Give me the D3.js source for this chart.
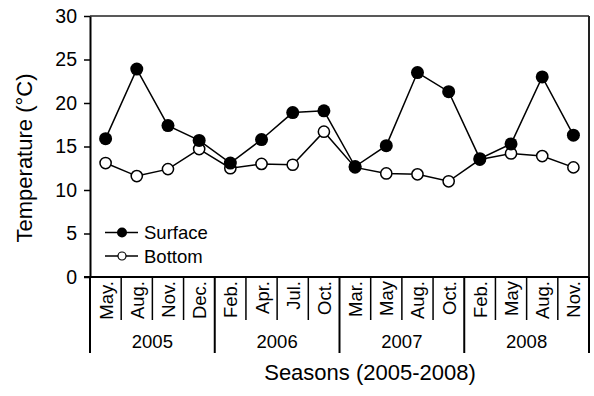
<!DOCTYPE html>
<html>
<head>
<meta charset="utf-8">
<script src="https://cdn.jsdelivr.net/npm/d3@7/dist/d3.min.js"></script>
<style>
  html, body { margin: 0; padding: 0; background: #fff; }
  svg { display: block; }
  text { font-family: "Liberation Sans", Arial, Helvetica, sans-serif; fill: #000; }
</style>
</head>
<body>
<svg id="chart" width="594" height="396"></svg>
<script>
// Sampling months, grouped by year
const months = ["May.", "Aug.", "Nov.", "Dec.",
                "Feb.", "Apr.", "Jul.", "Oct.",
                "Mar.", "May", "Aug.", "Oct.",
                "Feb.", "May", "Aug.", "Nov."];
const years = ["2005", "2006", "2007", "2008"];
const monthsPerYear = [4, 4, 4, 4];

// Water temperature (°C)
const surface = [15.9, 23.9, 17.4, 15.7, 13.1, 15.8, 18.9, 19.1,
                 12.7, 15.1, 23.5, 21.3, 13.6, 15.3, 23.0, 16.3];
const bottom  = [13.1, 11.6, 12.4, 14.7, 12.5, 13.0, 12.9, 16.7,
                 12.6, 11.9, 11.8, 11.0, 13.5, 14.2, 13.9, 12.6];

const yTicks = [0, 5, 10, 15, 20, 25, 30];
const seriesNames = ["Surface", "Bottom"];

const svg = d3.select("#chart");
const m = { left: 90, right: 589, top: 16, bottom: 277 };

const x = d3.scaleBand()
  .domain(d3.range(months.length))
  .range([m.left, m.right])
  .padding(0);

const y = d3.scaleLinear()
  .domain([0, 30])
  .range([m.bottom, m.top]);

// Frame: top and right borders
svg.append("line")
  .attr("x1", m.left).attr("x2", m.right)
  .attr("y1", m.top).attr("y2", m.top)
  .attr("stroke", "#222").attr("stroke-width", 1.5);
svg.append("line")
  .attr("x1", m.right).attr("x2", m.right)
  .attr("y1", m.top).attr("y2", m.bottom)
  .attr("stroke", "#222").attr("stroke-width", 2);

// Y axis
const yAxis = svg.append("g")
  .attr("transform", `translate(${m.left},0)`)
  .call(d3.axisLeft(y).tickValues(yTicks).tickSize(6).tickSizeOuter(0).tickPadding(7));
yAxis.select(".domain").attr("stroke", "#000").attr("stroke-width", 2);
yAxis.selectAll(".tick line").attr("stroke", "#000").attr("stroke-width", 1.5);
yAxis.selectAll(".tick text")
  .style("font-family", '"Liberation Sans", Arial, sans-serif')
  .style("font-size", "19.5px")
  .attr("fill", "#000");

// X axis baseline
svg.append("line")
  .attr("x1", m.left - 6).attr("x2", m.right)
  .attr("y1", m.bottom).attr("y2", m.bottom)
  .attr("stroke", "#000").attr("stroke-width", 2);

// Month separators
const monthBounds = d3.range(months.length + 1);
const yearStarts = [0];
monthsPerYear.forEach((n, i) => yearStarts.push(yearStarts[i] + n));
const boundX = i => (i < months.length ? x(i) : x(months.length - 1) + x.bandwidth());

svg.append("g").selectAll("line")
  .data(monthBounds.filter(i => !yearStarts.includes(i)))
  .join("line")
  .attr("x1", boundX).attr("x2", boundX)
  .attr("y1", m.bottom).attr("y2", 320)
  .attr("stroke", "#000").attr("stroke-width", 1.5);

// Year separators (longer)
svg.append("g").selectAll("line")
  .data(yearStarts)
  .join("line")
  .attr("x1", boundX).attr("x2", boundX)
  .attr("y1", m.bottom).attr("y2", 353)
  .attr("stroke", "#000").attr("stroke-width", 2);

// Month labels, rotated
svg.append("g").selectAll("text")
  .data(months)
  .join("text")
  .attr("transform", (d, i) => `translate(${x(i) + x.bandwidth() / 2 + 7},281) rotate(-90)`)
  .attr("text-anchor", "end")
  .style("font-size", "18.5px")
  .text(d => d);

// Year labels
svg.append("g").selectAll("text")
  .data(years)
  .join("text")
  .attr("x", (d, i) => (boundX(yearStarts[i]) + boundX(yearStarts[i + 1])) / 2)
  .attr("y", 347.5)
  .attr("text-anchor", "middle")
  .style("font-size", "18.5px")
  .text(d => d);

// Axis titles
svg.append("text")
  .attr("x", 370).attr("y", 379.5)
  .attr("text-anchor", "middle")
  .style("font-size", "22px")
  .text("Seasons (2005-2008)");

svg.append("text")
  .attr("transform", "translate(32,158) rotate(-90)")
  .attr("text-anchor", "middle")
  .style("font-size", "22px")
  .text("Temperature (°C)");

// Series lines and markers
const line = d3.line()
  .x((d, i) => x(i) + x.bandwidth() / 2)
  .y(d => y(d));

svg.append("path")
  .datum(bottom)
  .attr("d", line)
  .attr("fill", "none").attr("stroke", "#000").attr("stroke-width", 1.5);
svg.append("path")
  .datum(surface)
  .attr("d", line)
  .attr("fill", "none").attr("stroke", "#000").attr("stroke-width", 1.5);

svg.append("g").selectAll("circle")
  .data(bottom)
  .join("circle")
  .attr("cx", (d, i) => x(i) + x.bandwidth() / 2)
  .attr("cy", d => y(d))
  .attr("r", 5.6)
  .attr("fill", "#fff").attr("stroke", "#000").attr("stroke-width", 1.5);

svg.append("g").selectAll("circle")
  .data(surface)
  .join("circle")
  .attr("cx", (d, i) => x(i) + x.bandwidth() / 2)
  .attr("cy", d => y(d))
  .attr("r", 6.5)
  .attr("fill", "#000");

// Legend
const legend = svg.append("g");
seriesNames.forEach((name, i) => {
  const ly = 232.5 + i * 23.5;
  legend.append("line")
    .attr("x1", 105).attr("x2", 138)
    .attr("y1", ly).attr("y2", ly)
    .attr("stroke", "#000").attr("stroke-width", 1.5);
  legend.append("circle")
    .attr("cx", 122).attr("cy", ly)
    .attr("r", i === 0 ? 5 : 4)
    .attr("fill", i === 0 ? "#000" : "#fff")
    .attr("stroke", "#000").attr("stroke-width", i === 0 ? 0 : 1.2);
  legend.append("text")
    .attr("x", 144).attr("y", ly + 6.5)
    .style("font-size", "18.5px")
    .text(name);
});
</script>
</body>
</html>
